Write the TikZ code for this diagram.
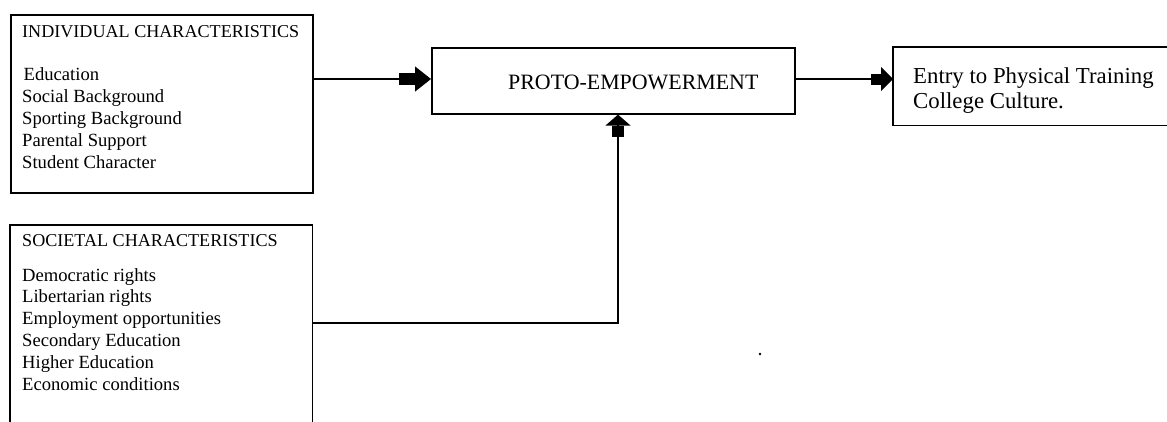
\documentclass[tikz,border=0pt]{standalone}
\usepackage{fontspec}
\setmainfont{Liberation Serif}
\usetikzlibrary{arrows.meta}
\begin{document}
\begin{tikzpicture}[x=1pt,y=-1pt,
  box/.style={draw, line width=1.6pt, inner sep=0pt, anchor=north west},
  openbox/.style={inner sep=0pt, anchor=north west},
  edge/.style={line width=1.6pt},
  conn/.style={line width=1.3pt},
  arrA/.style={-{Rectangle[length=16pt,width=12pt]Triangle[length=16pt,width=25pt]}},
  arrB/.style={-{Rectangle[length=10pt,width=11pt]Triangle[length=12pt,width=24pt]}},
  arrC/.style={-{Rectangle[length=11pt,width=12pt]Triangle[length=11pt,width=25pt]}},
  headtxt/.style={font=\fontsize{18.1}{20}\selectfont, inner sep=0pt, anchor=base west},
  itemtxt/.style={font=\fontsize{18.6}{22}\selectfont, inner sep=0pt, anchor=base west},
  bigtxt/.style={font=\fontsize{21.9}{25}\selectfont, inner sep=0pt, anchor=base west},
  entrytxt/.style={font=\fontsize{22.8}{25}\selectfont, inner sep=0pt, anchor=base west}
]
\useasboundingbox (0,0) rectangle (1167,421);

% boxes
\node[box, minimum width=302pt, minimum height=178pt] (ind) at (10,14) {};
\node[box, minimum width=363pt, minimum height=66pt] (proto) at (431,47) {};
\node[openbox, minimum width=275pt, minimum height=78pt] (ent) at (893,47) {};
\draw[edge] (ent.north east) -- (ent.north west) -- (ent.south west) -- (ent.south east);
\node[openbox, minimum width=302pt, minimum height=197pt] (soc) at (10,225) {};
\draw[edge] (soc.south west) -- (soc.north west) -- (soc.north east) -- (soc.south east);

% texts
\node[headtxt] (indh) at (22,37) {INDIVIDUAL CHARACTERISTICS};
\node[itemtxt] (i1) at (23.5,80.5) {Education};
\foreach \t [count=\i from 2] in {Social Background, Sporting Background, Parental Support, Student Character}
  \node[itemtxt] (i\i) at (22,{80.5+22*(\i-1)}) {\t};

\node[headtxt] (soch) at (22,246.7) {SOCIETAL CHARACTERISTICS};
\foreach \t [count=\i] in {Democratic rights, Libertarian rights, Employment opportunities, Secondary Education, Higher Education, Economic conditions}
  \node[itemtxt] (s\i) at (22,{281+21.8*(\i-1)}) {\t};

\node[bigtxt] (protot) at (508,89) {PROTO-EMPOWERMENT};
\node[entrytxt] (ent1) at (913,83) {Entry to Physical Training};
\node[entrytxt] (ent2) at (913,108) {College Culture.};

% connectors
\coordinate (bend) at (618,323);
\draw[conn, arrA] (ind.east |- 0,79) -- (proto.west |- 0,79);
\draw[conn, arrB] (proto.east |- 0,79) -- (ent.west |- 0,79);
\draw[conn, arrC] (soc.east |- bend) -- (bend) -- (bend |- proto.south);

% stray dot
\fill (760,354) circle (1.3pt);
\end{tikzpicture}
\end{document}
